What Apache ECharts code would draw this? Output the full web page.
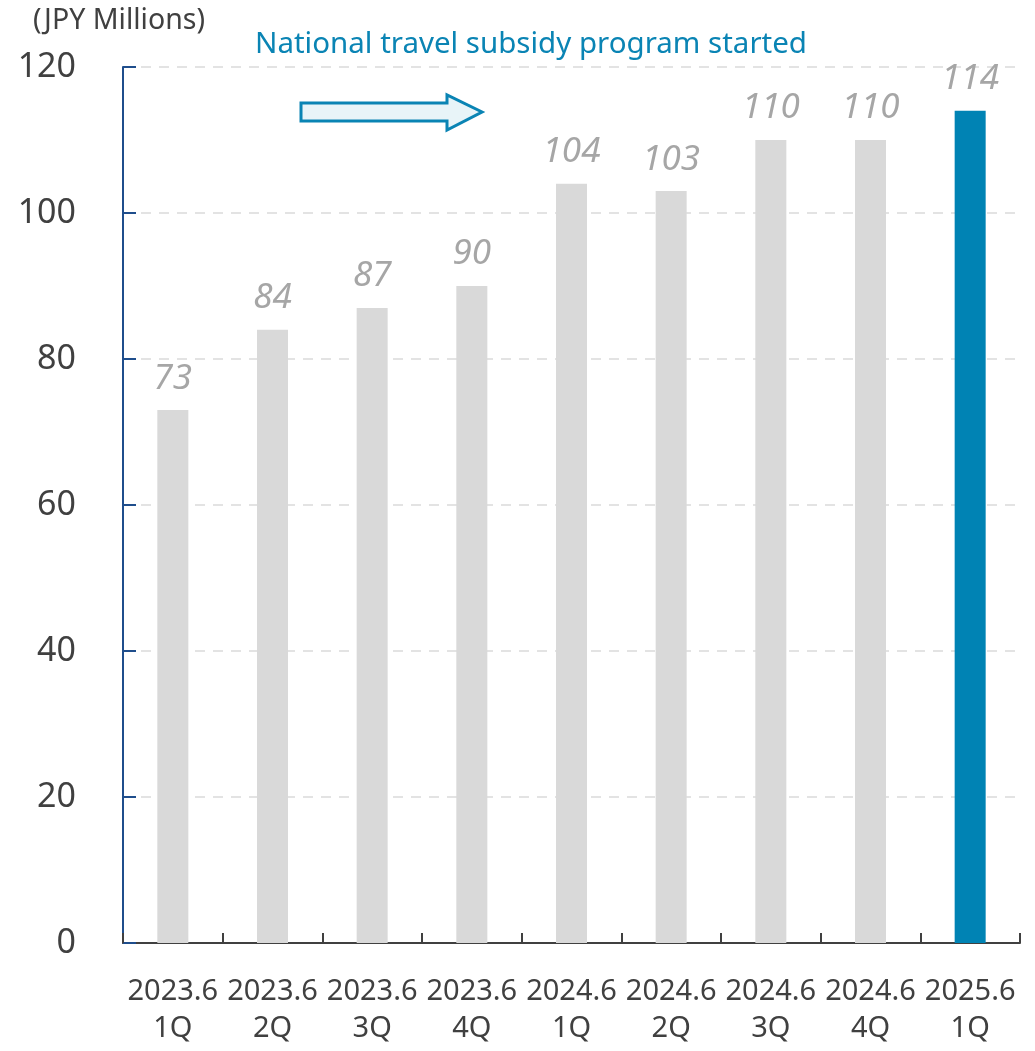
<!DOCTYPE html>
<html>
<head>
<meta charset="utf-8">
<script src="https://cdn.jsdelivr.net/npm/echarts@6/dist/echarts.min.js"></script>
<style>
  html, body { margin: 0; padding: 0; background: #fff; }
  #chart { width: 1035px; height: 1051px; }
</style>
</head>
<body>
<div id="chart"></div>
<script>
// data
const periods = ["2023.6", "2023.6", "2023.6", "2023.6", "2024.6", "2024.6", "2024.6", "2024.6", "2025.6"];
const quarters = ["1Q", "2Q", "3Q", "4Q", "1Q", "2Q", "3Q", "4Q", "1Q"];
const sales = [73, 84, 87, 90, 104, 103, 110, 110, 114];
const yTicks = [0, 20, 40, 60, 80, 100, 120];

const categories = periods.map((p, i) => p + "\n" + quarters[i]);
const font = "'Noto Sans', 'Open Sans', sans-serif";

const chart = echarts.init(document.getElementById("chart"));
chart.setOption({
  animation: false,
  textStyle: { fontFamily: font },
  grid: { left: 123, right: 15, top: 67, bottom: 108 },
  graphic: [
    {
      type: "text",
      left: 33, top: 6,
      style: { text: "(JPY Millions)", fill: "#404040", font: "28.5px " + font }
    },
    {
      type: "text",
      left: 255, top: 30,
      style: { text: "National travel subsidy program started", fill: "#0a84b4", font: "29.5px " + font }
    },
    {
      type: "polygon",
      shape: {
        points: [[301, 103], [447, 103], [447, 95], [482, 112], [447, 130], [447, 121], [301, 121]]
      },
      style: { fill: "#e8f4f8", stroke: "#0a84b4", lineWidth: 3 }
    }
  ],
  xAxis: {
    type: "category",
    data: categories,
    axisLine: { lineStyle: { color: "#404040", width: 2 } },
    axisTick: { show: true, inside: true, length: 10, lineStyle: { color: "#404040", width: 2 } },
    axisLabel: { color: "#404040", fontSize: 29, lineHeight: 37, margin: 30, interval: 0 }
  },
  yAxis: {
    type: "value",
    min: 0, max: 120, interval: 20,
    axisLine: { show: true, lineStyle: { color: "#1f4e8c", width: 2 } },
    axisTick: { show: true, inside: true, length: 13, lineStyle: { color: "#1f4e8c", width: 2 } },
    axisLabel: {
      color: "#404040", fontSize: 34, margin: 47,
      formatter: v => yTicks.includes(v) ? String(v) : ""
    },
    splitLine: { lineStyle: { color: "#e3e3e3", type: [10, 8], width: 2 } }
  },
  series: [{
    type: "bar",
    data: sales.map((v, i) => ({
      value: v,
      itemStyle: { color: i === sales.length - 1 ? "#0083b4" : "#d9d9d9" }
    })),
    barWidth: 31,
    label: {
      show: true,
      position: "top",
      distance: 14,
      color: "#a6a6a6",
      fontSize: 35,
      fontStyle: "italic"
    }
  }]
});
</script>
</body>
</html>
